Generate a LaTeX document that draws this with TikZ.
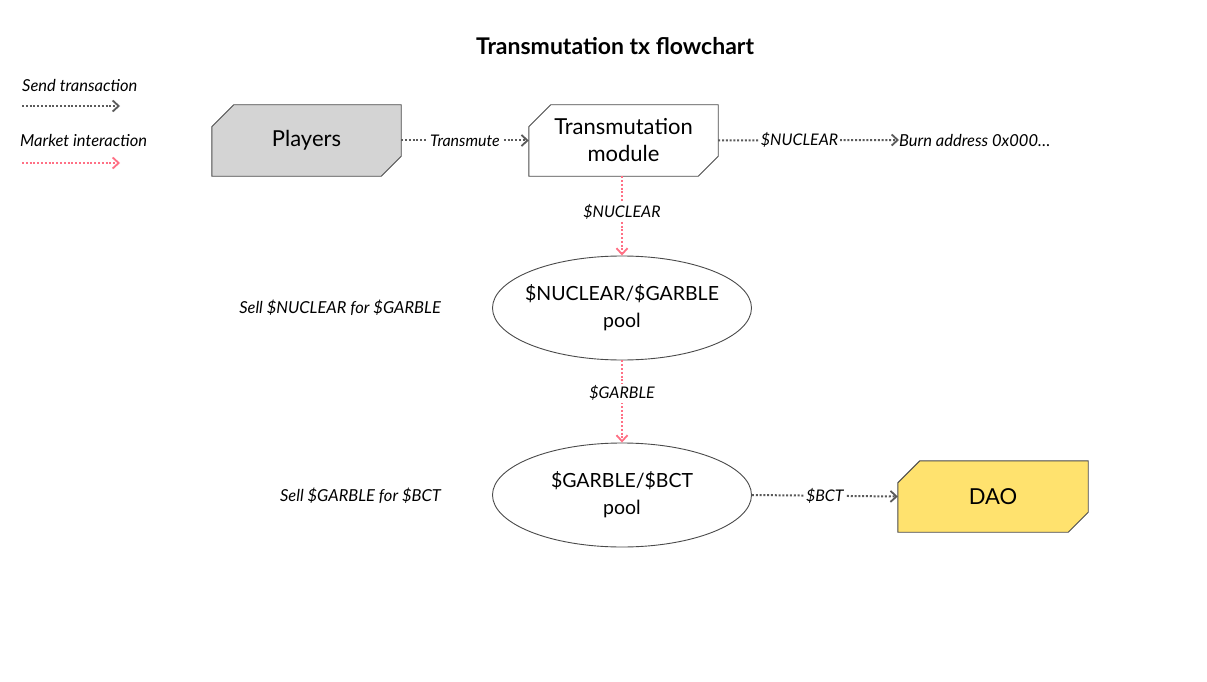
\documentclass[tikz,border=0pt]{standalone}
\usepackage{fontspec}
\setmainfont{Lato}
\usetikzlibrary{arrows.meta,shapes.geometric,calc}
\definecolor{sendgray}{HTML}{5A5A5A}
\definecolor{mktpink}{HTML}{FF7085}
\definecolor{boxline}{HTML}{4A4A4A}
\definecolor{playerfill}{HTML}{D4D4D4}
\definecolor{daofill}{HTML}{FFE26E}
\tikzset{
  sendline/.style={draw=sendgray,line width=2pt,dash pattern=on 2pt off 1.8pt,
    -{Straight Barb[length=6pt,width=11pt,line width=1.8pt,sharp]}},
  mktline/.style={draw=mktpink,line width=2pt,dash pattern=on 2pt off 1.8pt,
    -{Straight Barb[length=6pt,width=11pt,line width=1.8pt,sharp]}},
  boxtext/.style={inner sep=0pt,align=center,font=\fontsize{22}{27}\selectfont},
  pooltext/.style={inner sep=0pt,align=center,font=\fontsize{19.5}{27}\selectfont},
  pool/.style={ellipse,draw=boxline,line width=0.9pt,inner sep=0pt,
    minimum width=259pt,minimum height=104pt},
  lbl/.style={fill=white,inner sep=2pt,font=\fontsize{16}{18}\selectfont\itshape},
  sidelbl/.style={inner sep=0pt,font=\fontsize{16.5}{18}\selectfont\itshape},
}
\newcommand{\cutbox}[2]{%
  \filldraw[draw=boxline,fill=#2,line width=0.9pt]
    ($(#1.north west)+(0,22)$) -- ($(#1.north west)+(22,0)$) -- (#1.north east)
    -- ($(#1.south east)+(0,-20)$) -- ($(#1.south east)+(-20,0)$) -- (#1.south west) -- cycle;}
\begin{document}
\begin{tikzpicture}[x=1pt,y=-1pt]
\useasboundingbox[fill=white] (0,0) rectangle (1207,682);
% title
\node[font=\fontsize{23}{27}\selectfont\bfseries] (title) at (615,46) {Transmutation tx flowchart};
% legend
\node[sidelbl,anchor=west] (sendl) at (22,85) {Send transaction};
\coordinate (s1) at (22,106); \coordinate (s2) at (120,106);
\draw[sendline] (s1) -- (s2);
\node[sidelbl,anchor=west] (mktl) at (20,140) {Market interaction};
\coordinate (m1) at (22,163); \coordinate (m2) at (120,163);
\draw[mktline] (m1) -- (m2);
% boxes
\node[boxtext,minimum width=189pt,minimum height=71pt] (players) at (306.5,140.5) {};
\cutbox{players}{playerfill}
\node[boxtext] at (players) {Players};
\node[boxtext,minimum width=189pt,minimum height=71pt] (tm) at (623.5,140.5) {};
\cutbox{tm}{white}
\node[boxtext] at (tm) {Transmutation\\module};
\node[boxtext,minimum width=190pt,minimum height=71pt] (dao) at (993,496.5) {};
\cutbox{dao}{daofill}
\node[boxtext] at (dao) {DAO};
% pools
\node[pool] (p1) at (622,308) {};
\node[pooltext] (p1t) at (p1) {\$NUCLEAR/\$GARBLE\\pool};
\node[pool] (p2) at (622,495) {};
\node[pooltext] (p2t) at (p2) {\$GARBLE/\$BCT\\pool};
% burn
\node[sidelbl,anchor=west] (burn) at (899,140) {Burn address 0x000…};
% side labels
\node[sidelbl,anchor=east] (s1lbl) at (441,308) {Sell \$NUCLEAR for \$GARBLE};
\node[sidelbl,anchor=east] (s2lbl) at (441,496) {Sell \$GARBLE for \$BCT};
% connectors
\draw[sendline] (players.east) -- node[lbl] {Transmute} (tm.west);
\draw[sendline] (tm.east) -- node[lbl,pos=0.45] {\$NUCLEAR} (burn.west);
\draw[mktline] ($(tm.south)+(-1.5,0)$) -- node[lbl,pos=0.45] {\$NUCLEAR} (p1.north);
\draw[mktline] (p1.south) -- node[lbl,pos=0.4] {\$GARBLE} (p2.north);
\draw[sendline] (p2.east) -- node[lbl] {\$BCT} (dao.west);
\end{tikzpicture}
\end{document}
